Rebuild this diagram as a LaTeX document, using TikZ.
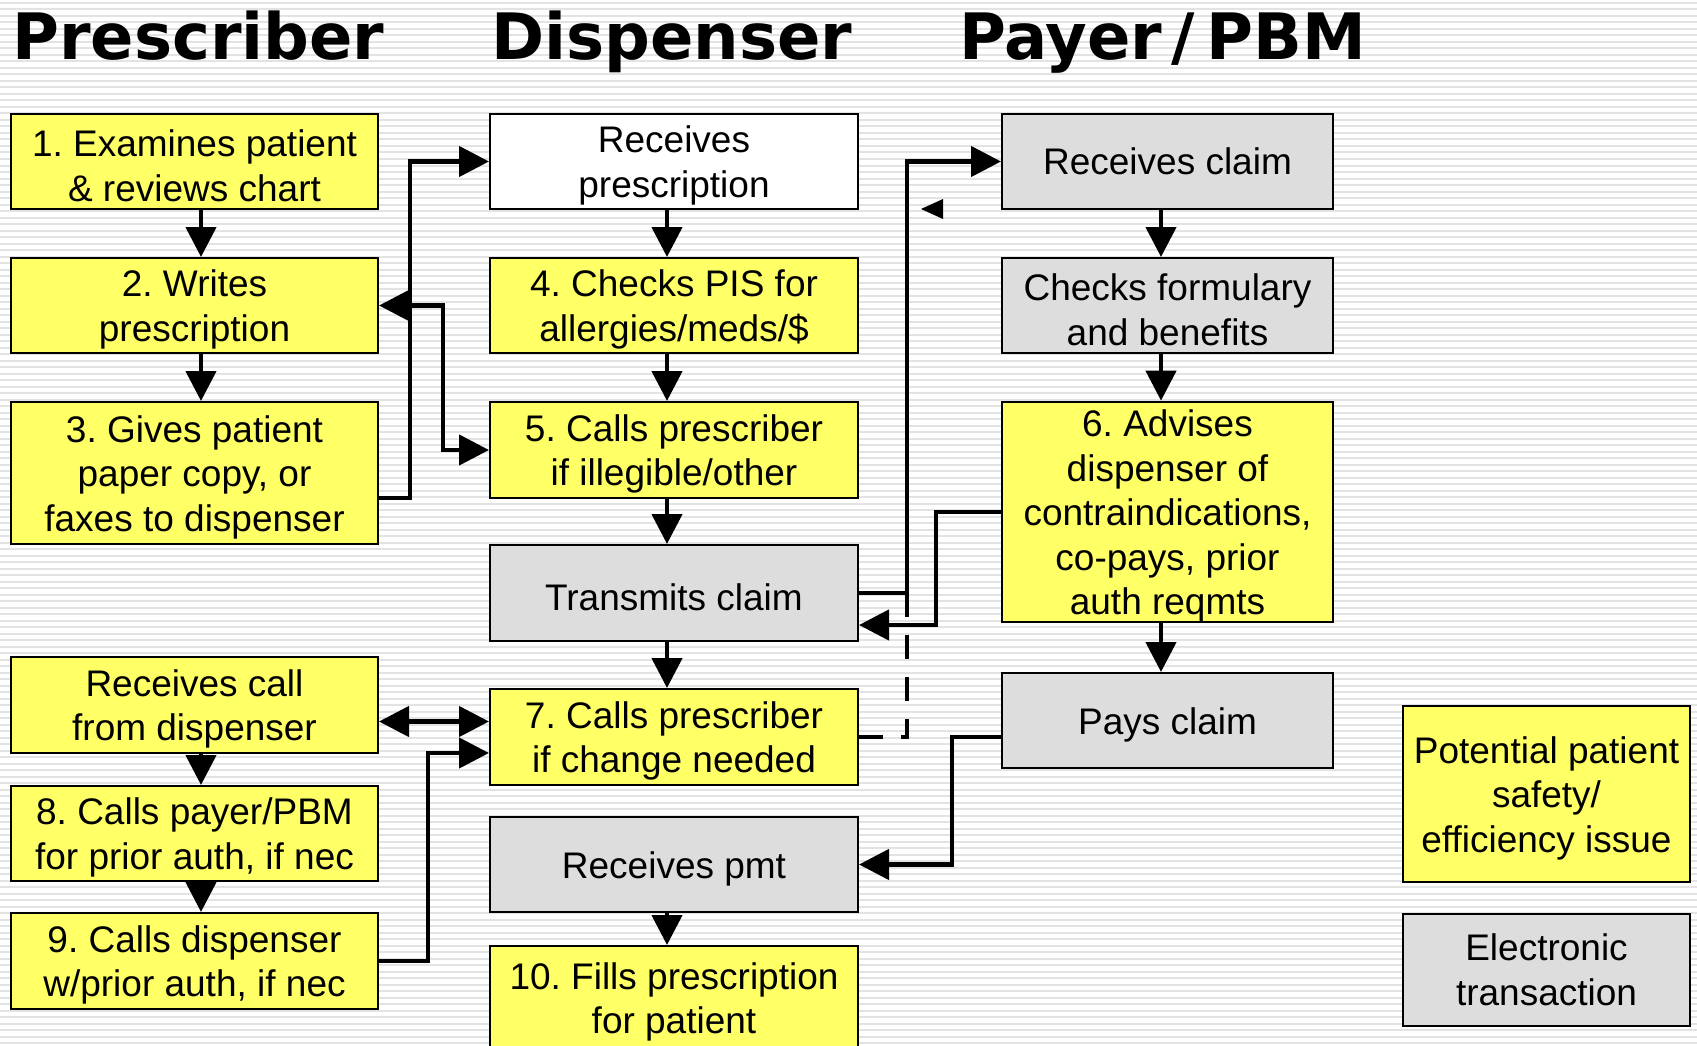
\documentclass[tikz,border=0pt]{standalone}
\usepackage{fontspec}
\setmainfont{Liberation Sans}
\newfontfamily\titlefont{DejaVu Sans}
\usetikzlibrary{arrows.meta,calc}
\definecolor{boxyellow}{HTML}{FFFF66}
\definecolor{boxgray}{HTML}{DDDDDD}
\definecolor{stripe}{HTML}{E3E3E3}
\frenchspacing
\newcommand{\tstrut}{\rule{0pt}{35pt}}
\begin{document}
\begin{tikzpicture}[x=1pt,y=-1pt,
  box/.style={draw=black, line width=2pt, inner sep=0pt, align=center, font=\fontsize{37}{44.5}\selectfont},
  ybox/.style={box, fill=boxyellow},
  gbox/.style={box, fill=boxgray},
  wbox/.style={box, fill=white},
  colA/.style={minimum width=367pt},
  colB/.style={minimum width=368pt},
  colC/.style={minimum width=331pt},
  arr/.style={line width=4.5pt, -{Triangle[length=30pt,width=30pt]}},
  darr/.style={line width=4.5pt, {Triangle[length=30pt,width=30pt]}-{Triangle[length=30pt,width=30pt]}},
  dashline/.style={line width=4.5pt, dash pattern=on 24pt off 18pt},
  title/.style={anchor=base west, inner sep=0pt, font=\titlefont\bfseries\fontsize{64}{70}\selectfont}
]
\useasboundingbox (0,0) rectangle (1697,1046);
\clip (0,0) rectangle (1697,1046);
\fill[white] (0,0) rectangle (1697,1046);
\foreach \i in {0,...,161} \draw[stripe, line width=2pt] (0,{3+6.5*\i}) -- (1697,{3+6.5*\i});

% titles
\node[title] (t1) at (12,60) {Prescriber};
\node[title] (t2) at (491,60) {Dispenser};
\node[title] (t3) at (959,60) {Payer\kern9pt/\kern12pt PBM};

% column A
\node[ybox, colA, minimum height=95pt] (a1) at (194.5,161.5) {\tstrut 1. Examines patient\\\& reviews chart};
\node[ybox, colA, minimum height=95pt] (a2) at (194.5,305.5) {\tstrut 2. Writes\\prescription};
\node[ybox, colA, minimum height=142pt] (a3) at (194.5,473) {\tstrut 3. Gives patient\\paper copy, or\\faxes to dispenser};
\node[ybox, colA, minimum height=96pt] (a4) at (194.5,705) {\tstrut Receives call\\from dispenser};
\node[ybox, colA, minimum height=95pt] (a5) at (194.5,833.5) {\tstrut 8. Calls payer/PBM\\for prior auth, if nec};
\node[ybox, colA, minimum height=96pt] (a6) at (194.5,961) {\tstrut 9. Calls dispenser\\w/prior auth, if nec};

% column B
\node[wbox, colB, minimum height=95pt] (b1) at (674,161.5) {\tstrut Receives\\prescription};
\node[ybox, colB, minimum height=95pt] (b2) at (674,305.5) {\tstrut 4. Checks PIS for\\allergies/meds/\$};
\node[ybox, colB, minimum height=96pt] (b3) at (674,450) {\tstrut 5. Calls prescriber\\if illegible/other};
\node[gbox, colB, minimum height=96pt] (b4) at (674,593) {\tstrut Transmits claim};
\node[ybox, colB, minimum height=96pt] (b5) at (674,737) {\tstrut 7. Calls prescriber\\if change needed};
\node[gbox, colB, minimum height=95pt] (b6) at (674,864.5) {\tstrut Receives pmt};
\node[ybox, colB, minimum height=104pt] (b7) at (674,998) {\tstrut 10. Fills prescription\\for patient};

% column C
\node[gbox, colC, minimum height=95pt] (c1) at (1167.5,161.5) {Receives claim};
\node[gbox, colC, minimum height=95pt] (c2) at (1167.5,305.5) {\tstrut Checks formulary\\and benefits};
\node[ybox, colC, minimum height=220pt] (c3) at (1167.5,512) {\tstrut 6. Advises\\dispenser of\\contraindications,\\co-pays, prior\\auth reqmts};
\node[gbox, colC, minimum height=95pt] (c4) at (1167.5,720.5) {\tstrut Pays claim};

% legend
\node[ybox, minimum width=287pt, minimum height=176pt] (l1) at (1546.5,794) {\tstrut Potential patient\\safety/\\efficiency issue};
\node[gbox, minimum width=287pt, minimum height=112pt] (l2) at (1546.5,970) {Electronic\\transaction};

% column arrows
\coordinate (ax) at (201,0);
\coordinate (bx) at (667,0);
\coordinate (cx) at (1161,0);
\draw[arr] (a1.south -| ax) -- (a2.north -| ax);
\draw[arr] (a2.south -| ax) -- (a3.north -| ax);
\draw[arr] (a4.south -| ax) -- (a5.north -| ax);
\draw[arr] (a5.south -| ax) -- (a6.north -| ax);
\draw[arr] (b1.south -| bx) -- (b2.north -| bx);
\draw[arr] (b2.south -| bx) -- (b3.north -| bx);
\draw[arr] (b3.south -| bx) -- (b4.north -| bx);
\draw[arr] (b4.south -| bx) -- (b5.north -| bx);
\draw[arr] (b6.south -| bx) -- (b7.north -| bx);
\draw[arr] (c1.south -| cx) -- (c2.north -| cx);
\draw[arr] (c2.south -| cx) -- (c3.north -| cx);
\draw[arr] (c3.south -| cx) -- (c4.north -| cx);

% connectors
\draw[arr] ($(a3.east)+(0,25)$) -- ++(31,0) |- (b1.west);
\draw[darr] (a2.east) -- ++(64,0) |- (b3.west);
\draw[arr] (b4.east) -- ++(48,0) |- (c1.west);
\draw[arr] (c3.west) -- ++(-65,0) |- ($(b4.east)+(0,32)$);
\draw[dashline] (b5.east) -- ++(48,0) -- ++(0,-144);
\draw[arr] ($(c4.west)+(0,16.5)$) -- ++(-49,0) |- (b6.east);
\draw[darr] ($(a4.east)+(0,16.5)$) -- ($(b5.west)+(0,-15.5)$);
\draw[arr] (a6.east) -- ++(49,0) |- ($(b5.west)+(0,16)$);
\coordinate (stray) at (921,209);
\fill (stray) -- ++(22,-10) -- ++(0,20) -- cycle;
\end{tikzpicture}
\end{document}
